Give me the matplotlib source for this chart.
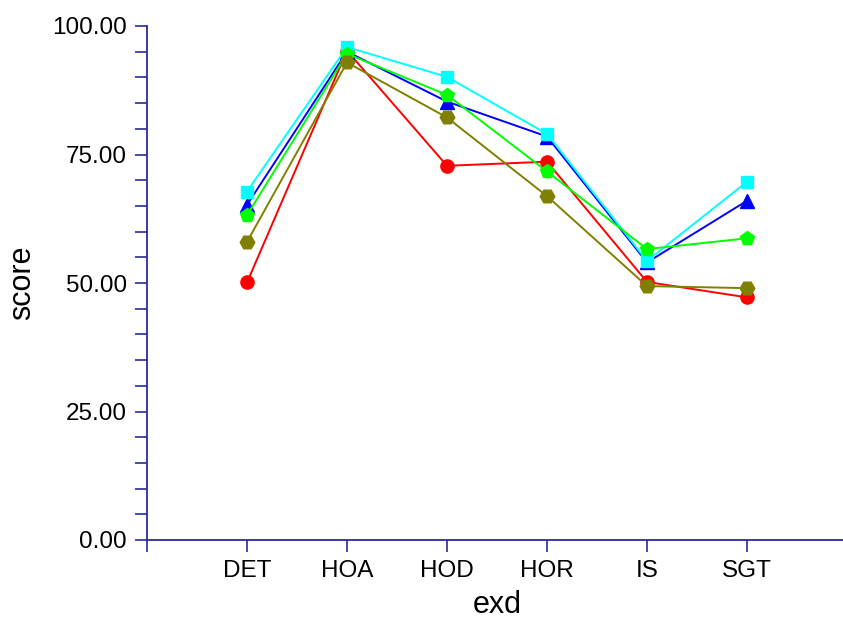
import matplotlib
matplotlib.use("Agg")
import matplotlib.pyplot as plt
from matplotlib.ticker import MultipleLocator, FormatStrFormatter

categories = ["DET", "HOA", "HOD", "HOR", "IS", "SGT"]
red_vals = [50.1, 95.2, 72.8, 73.6, 50.2, 47.2]
blue_vals = [65.2, 95.0, 85.3, 78.5, 54.0, 66.0]
cyan_vals = [67.8, 95.9, 90.1, 79.0, 54.3, 69.7]
green_vals = [63.2, 94.6, 86.6, 71.7, 56.6, 58.7]
olive_vals = [58.0, 92.9, 82.2, 66.9, 49.4, 49.0]

series = [
    (red_vals, "#ff0000", "o", 9.5),
    (blue_vals, "#0000ff", "^", 9.5),
    (cyan_vals, "#00ffff", "s", 8.5),
    (green_vals, "#00ff00", "p", 10.5),
    (olive_vals, "#808000", "H", 10.5),
]

plt.rcParams["font.family"] = ["Liberation Sans", "DejaVu Sans"]
axis_color = "#2a2a9a"

fig = plt.figure(figsize=(8.43, 6.22), dpi=100)
W, H = 843, 622
ax = fig.add_axes([147 / W, (H - 540) / H, 700 / W, 514 / H])

x = list(range(1, len(categories) + 1))
for vals, col, mk, ms in series:
    ax.plot(x, vals, color=col, marker=mk, markersize=ms, linewidth=1.4,
            markeredgecolor=col, clip_on=False)

ax.set_xlim(0, 7)
ax.set_ylim(0, 100)

ax.set_xticks([0] + x)
ax.set_xticklabels([""] + categories)
ax.yaxis.set_major_locator(MultipleLocator(25))
ax.yaxis.set_minor_locator(MultipleLocator(5))
ax.yaxis.set_major_formatter(FormatStrFormatter("%.2f"))

for s in ["top", "right"]:
    ax.spines[s].set_visible(False)
for s in ["left", "bottom"]:
    ax.spines[s].set_color(axis_color)
    ax.spines[s].set_linewidth(1.3)

ax.tick_params(axis="both", which="both", direction="out", color=axis_color,
               width=1.2, length=8.5, labelsize=17.5, labelcolor="black", pad=6)

ax.set_xlabel("exd", fontsize=22)
ax.set_ylabel("score", fontsize=22)
ax.xaxis.set_label_coords(0.5, (540 - 605) / 514)
ax.xaxis.label.set_va("center")
ax.yaxis.set_label_coords((22 - 147) / 700, 0.5)
ax.yaxis.label.set_va("center")

fig.savefig("out.png", dpi=100)
